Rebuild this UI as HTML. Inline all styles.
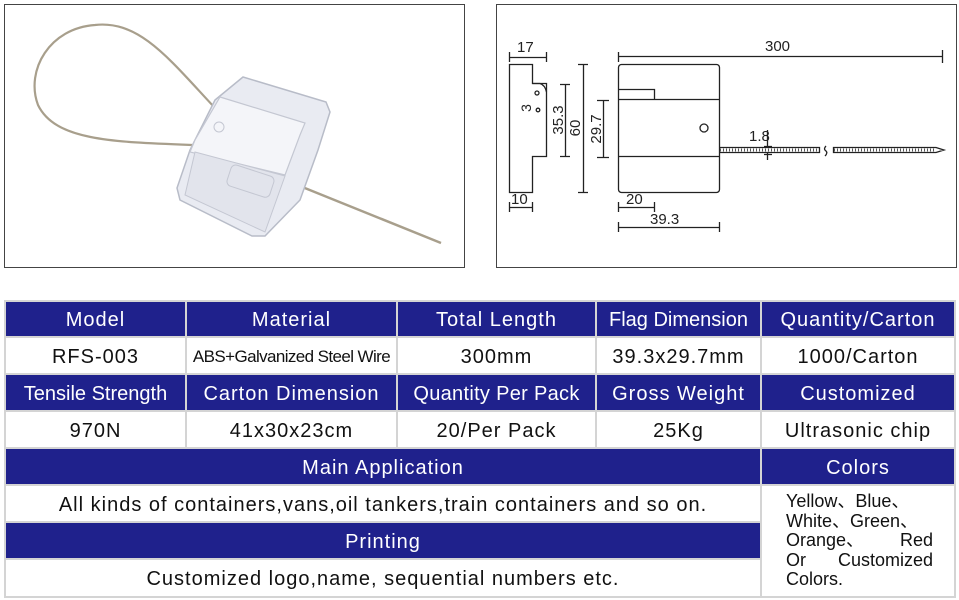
<!DOCTYPE html>
<html><head><meta charset="utf-8"><style>
body{margin:0;width:959px;height:600px;background:#fff;position:relative;overflow:hidden;font-family:"Liberation Sans",Arial,sans-serif}
.c{position:absolute;box-sizing:border-box;display:flex;align-items:center;justify-content:center;font-size:20px;letter-spacing:1px;padding-top:3px;color:#111;border-right:2px solid #d4d4d4;border-bottom:2px solid #d4d4d4;white-space:nowrap}
.h{background:#1f218c;color:#fff}
.cl div{display:flex;justify-content:space-between}
</style></head><body>
<svg width="959" height="290" style="position:absolute;left:0;top:0" font-family="Liberation Sans, Arial, sans-serif">
<rect x="4.5" y="4.5" width="460" height="263" fill="#fff" stroke="#444" stroke-width="1"/>
<rect x="496.5" y="4.5" width="460" height="263" fill="#fff" stroke="#444" stroke-width="1"/>
<!-- photo -->
<path d="M215,108 C170,60 140,20 95,25 C50,28 25,70 38,105 C55,140 110,142 192,145" fill="none" stroke="#a89f8c" stroke-width="2.2"/>
<path d="M280,178 L441,243" stroke="#a89f8c" stroke-width="2.5"/>
<polygon points="243,77 326,102 330,112 318,150 300,200 265,236 252,236 180,200 177,188 190,150 215,100" fill="#e9ebf2" stroke="#b8bcc8" stroke-width="1.5"/>
<polygon points="220,97 305,123 300,135 285,175 190,152 195,140" fill="#f4f5f9" stroke="#c4c7d2" stroke-width="1.2"/>
<polygon points="195,152 285,176 265,232 185,195" fill="#e2e4ec" stroke="#c4c7d2" stroke-width="1"/>
<rect x="228" y="170" width="45" height="22" rx="5" fill="none" stroke="#c4c7d2" transform="rotate(18 250 181)"/>
<circle cx="219" cy="127" r="5" fill="none" stroke="#c4c7d2"/>
<!-- drawing -->
<g stroke="#222" stroke-width="1.3" fill="none">
<path d="M509.5,64.5 H532.5 V83.5 H546.5 V156.5 H532.5 V192.5 H509.5 Z"/>
<path d="M532.5,83.5 H540 Q545,85 546.5,92"/>
<circle cx="537" cy="93" r="2"/>
<circle cx="538" cy="110" r="1.8"/>
<path d="M509.5,52 V62 M546.5,52 V62 M509.5,57.5 H546.5"/>
<path d="M509.5,202 V212 M532.5,202 V212 M509.5,207.5 H532.5"/>
<path d="M560,84.5 H570 M560,156.5 H570 M565.5,84.5 V156.5"/>
<path d="M578,64.5 H588 M578,192.5 H588 M583.5,64.5 V192.5"/>
<path d="M597,100.5 H609 M597,157.5 H609 M603.5,100.5 V157.5"/>
<rect x="618.5" y="64.5" width="101" height="128" rx="3"/>
<path d="M618.5,99.5 H719.5 M618.5,156.5 H719.5 M618.5,89.5 H654.5 V99.5"/>
<circle cx="704" cy="128" r="4"/>
<path d="M618.5,52 V62 M942.5,50 V63 M618.5,56.5 H942.5"/>
<path d="M618.5,202 V212 M654.5,202 V212 M618.5,207.5 H654.5"/>
<path d="M618.5,222 V232 M719.5,222 V232 M618.5,227.5 H719.5"/>
<path d="M719.5,147.5 H819.5 V152.5 H719.5 M833.5,147.5 H936 L944,150 L936,152.5 H833.5 Z"/>
<path d="M767.5,130 V147 M764,146.5 H772 M764,154.5 H772 M767.5,153 V160" />
<path d="M826,146 Q823,149 826,151 Q828,153 825,156"/>
</g>
<path d="M720,150 H819 M834,150 H936" stroke="#555" stroke-width="3" stroke-dasharray="1 2"/>
<g font-size="15" fill="#222">
<text x="517" y="52">17</text>
<text x="511" y="204">10</text>
<text x="765" y="51">300</text>
<text x="626" y="204">20</text>
<text x="650" y="224">39.3</text>
<text x="749" y="141">1.8</text>
<text transform="translate(563,120) rotate(-90)" text-anchor="middle">35.3</text>
<text transform="translate(580,128) rotate(-90)" text-anchor="middle">60</text>
<text transform="translate(601,129) rotate(-90)" text-anchor="middle">29.7</text>
<text transform="translate(531,108) rotate(-90)" text-anchor="middle" font-size="14">3</text>
</g>
</svg>
<div style="position:absolute;left:4px;top:300px;width:952px;height:298px;border-top:2px solid #d4d4d4;border-left:2px solid #d4d4d4;box-sizing:border-box"></div>
<div class="c h" style="left:6px;top:302px;width:181px;height:36px">Model</div>
<div class="c h" style="left:187px;top:302px;width:211px;height:36px">Material</div>
<div class="c h" style="left:398px;top:302px;width:199px;height:36px">Total Length</div>
<div class="c h" style="left:597px;top:302px;width:165px;height:36px;letter-spacing:0">Flag Dimension</div>
<div class="c h" style="left:762px;top:302px;width:194px;height:36px">Quantity/Carton</div>
<div class="c" style="left:6px;top:338px;width:181px;height:37px">RFS-003</div>
<div class="c" style="left:187px;top:338px;width:211px;height:37px;font-size:17px;letter-spacing:-0.6px">ABS+Galvanized Steel Wire</div>
<div class="c" style="left:398px;top:338px;width:199px;height:37px">300mm</div>
<div class="c" style="left:597px;top:338px;width:165px;height:37px">39.3x29.7mm</div>
<div class="c" style="left:762px;top:338px;width:194px;height:37px">1000/Carton</div>
<div class="c h" style="left:6px;top:375px;width:181px;height:37px;letter-spacing:0">Tensile Strength</div>
<div class="c h" style="left:187px;top:375px;width:211px;height:37px">Carton Dimension</div>
<div class="c h" style="left:398px;top:375px;width:199px;height:37px;letter-spacing:0.3px">Quantity Per Pack</div>
<div class="c h" style="left:597px;top:375px;width:165px;height:37px">Gross Weight</div>
<div class="c h" style="left:762px;top:375px;width:194px;height:37px">Customized</div>
<div class="c" style="left:6px;top:412px;width:181px;height:37px">970N</div>
<div class="c" style="left:187px;top:412px;width:211px;height:37px">41x30x23cm</div>
<div class="c" style="left:398px;top:412px;width:199px;height:37px">20/Per Pack</div>
<div class="c" style="left:597px;top:412px;width:165px;height:37px">25Kg</div>
<div class="c" style="left:762px;top:412px;width:194px;height:37px">Ultrasonic chip</div>
<div class="c h" style="left:6px;top:449px;width:756px;height:37px">Main Application</div>
<div class="c h" style="left:762px;top:449px;width:194px;height:37px">Colors</div>
<div class="c" style="left:6px;top:486px;width:756px;height:37px">All kinds of containers,vans,oil tankers,train containers and so on.</div>
<div class="c h" style="left:6px;top:523px;width:756px;height:37px">Printing</div>
<div class="c" style="left:6px;top:560px;width:756px;height:38px">Customized logo,name, sequential numbers etc.</div>
<div class="c" style="left:762px;top:486px;width:194px;height:112px"></div>
<div class="cl" style="position:absolute;left:786px;top:492px;width:147px;font-size:18px;line-height:19.6px;color:#111;font-family:'Liberation Sans','Noto Sans CJK SC',sans-serif">
<div><span>Yellow、Blue、</span></div><div><span>White、Green、</span></div><div><span>Orange、</span><span>Red</span></div><div><span>Or</span><span>Customized</span></div><div><span>Colors.</span></div></div>
</body></html>
